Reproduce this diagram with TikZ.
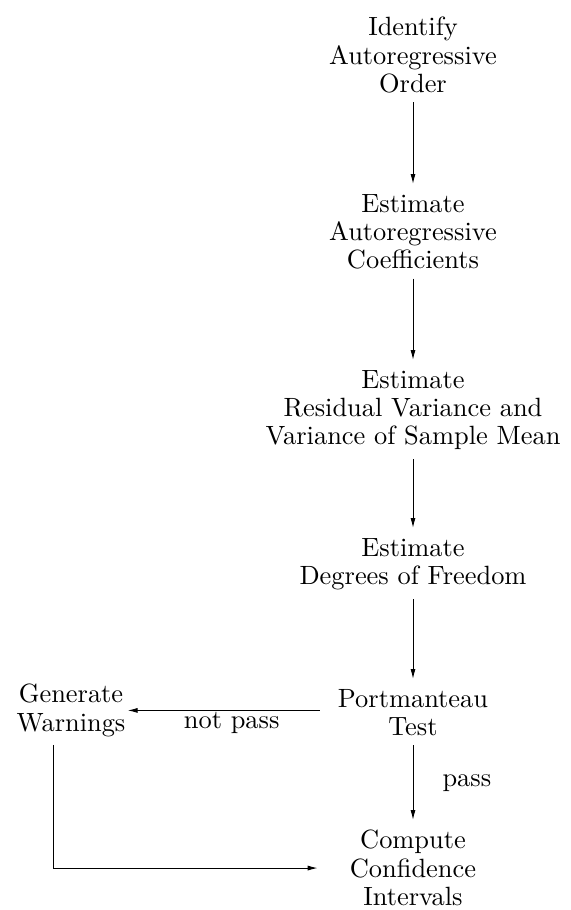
\documentclass[tikz,border=0pt]{standalone}
\usepackage{fontspec}
\newfontfamily\chartfont{lmroman10-regular.otf}
\usetikzlibrary{arrows.meta}
\tikzset{
  blk/.style={align=center, anchor=north, inner sep=0pt, font=\chartfont\fontsize{26.5}{28.5}\selectfont},
  lbl/.style={inner sep=1bp, font=\chartfont\fontsize{26.5}{28.5}\selectfont},
  flow/.style={line width=1bp, -{Latex[length=10bp,width=5bp]}, shorten <=9bp, shorten >=10bp},
}

\begin{document}
\begin{tikzpicture}[x=1bp,y=-1bp]
  %%%%% START %%%%%
  \useasboundingbox (0,0) rectangle (571,910);

  \node[blk] (ident) at (413,17) {Identify\\Autoregressive\\Order};
  \node[blk] (coef) at (413,194) {Estimate\\Autoregressive\\Coefficients};
  \node[blk] (resvar) at (413,370) {Estimate\\Residual Variance and\\Variance of Sample Mean};
  \node[blk] (dof) at (413,538) {Estimate\\Degrees of Freedom};
  \node[blk] (port) at (413,689) {Portmanteau\\Test};
  \node[blk] (conf) at (413,830) {Compute\\Confidence\\Intervals};
  \node[blk] (warn) at (71,684) {Generate\\Warnings};

  \draw[flow] (ident) -- (coef);
  \draw[flow] (coef) -- (resvar);
  \draw[flow] (resvar) -- (dof);
  \draw[flow] (dof) -- (port);
  \draw[flow] (port) -- (conf) node[lbl, midway, right=28bp] {pass};

  \draw[flow, shorten <=18bp, shorten >=2bp] (port.west |- warn.east) -- (warn.east)
    node[lbl, pos=0.5, below] {not pass};
  \draw[flow, shorten <=8bp, shorten >=32bp] ([xshift=-18bp]warn.south) |- (conf.west);
  %%%%% END %%%%%
\end{tikzpicture}
\end{document}
